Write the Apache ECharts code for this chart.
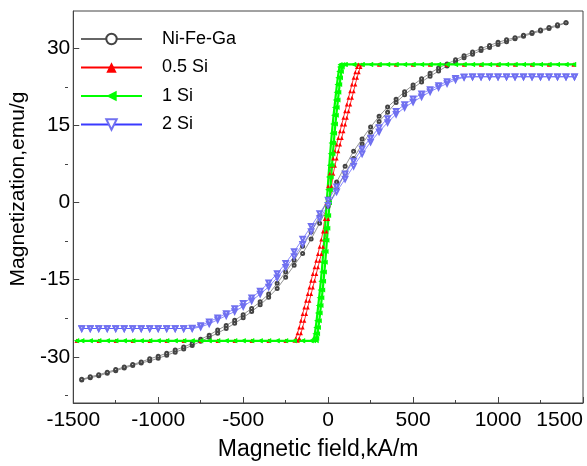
<!DOCTYPE html>
<html><head><meta charset="utf-8">
<script src="https://cdn.jsdelivr.net/npm/echarts@6/dist/echarts.min.js"></script>
<style>html,body{margin:0;padding:0;background:#fff}#c{width:587px;height:466px}</style>
</head><body><div id="c"></div>
<script>
const seriesNames = ['Ni-Fe-Ga', '0.5 Si', '1 Si', '2 Si'];
const yTicks = [-30, -15, 0, 15, 30];
const yMinorTicks = [-37.5, -22.5, -7.5, 7.5, 22.5];

// Ni-Fe-Ga (black): field grid, ascending and descending branch
const niField = [-1450,-1400,-1350,-1300,-1250,-1200,-1150,-1100,-1050,-1000,-950,-900,-850,-800,-750,-700,-650,-600,-550,-500,-450,-400,-350,-300,-250,-200,-150,-100,-50,0,50,100,150,200,250,300,350,400,450,500,550,600,650,700,750,800,850,900,950,1000,1050,1100,1150,1200,1250,1300,1350,1400];
const niUp = [-34.5,-34.1,-33.7,-33.2,-32.7,-32.2,-31.7,-31.2,-30.8,-30.3,-29.7,-29.1,-28.5,-27.8,-27.0,-26.2,-25.4,-24.5,-23.5,-22.4,-21.2,-19.9,-18.4,-16.7,-14.5,-12.2,-9.9,-7.1,-4.0,-0.7,2.6,5.7,8.6,11.4,13.7,15.8,17.6,19.5,21.0,22.3,23.5,24.6,25.6,26.6,27.4,28.2,28.9,29.6,30.2,30.8,31.3,31.9,32.4,32.9,33.4,33.9,34.4,35.0];
const niDown = [-34.4,-33.9,-33.5,-33.0,-32.5,-32.0,-31.5,-31.0,-30.4,-29.9,-29.3,-28.7,-28.1,-27.4,-26.6,-25.8,-24.8,-23.9,-22.9,-21.8,-20.6,-19.3,-17.8,-15.7,-13.5,-11.2,-8.5,-5.7,-2.6,0.7,4.0,7.1,10.0,12.4,14.7,16.8,18.6,20.1,21.6,22.9,24.1,25.2,26.2,27.0,27.8,28.6,29.3,30.0,30.6,31.2,31.7,32.1,32.6,33.1,33.6,34.1,34.6,35.0];

// 0.5 Si (red)
const redUpField = [-1480,-1350,-1250,-1150,-1050,-950,-850,-750,-650,-550,-450,-350,-250,-178,-170,-160,-150,-140,-130,-120,-110,-100,-90,-80,-70,-60,-50,-40,-30,-20,-10,0,10,20,30,40,50,60,70,80,90,100,110,120,130,140,150,160,170,180,190,198,300,400,500,600,700,800,900,1000,1100,1200,1300,1445];
const redUpM = [-26.9,-26.9,-26.9,-26.9,-26.9,-26.9,-26.9,-26.9,-26.9,-26.9,-26.9,-26.9,-26.9,-26.9,-26.4,-25.4,-24.3,-23.0,-21.7,-20.4,-19.1,-17.8,-16.5,-15.2,-13.9,-12.6,-11.3,-10.0,-8.6,-7.2,-5.6,-3.2,0,3.2,5.6,7.2,8.6,10.0,11.3,12.6,13.9,15.2,16.5,17.8,19.1,20.4,21.7,23.0,24.3,25.4,26.4,26.9,26.9,26.9,26.9,26.9,26.9,26.9,26.9,26.9,26.9,26.9,26.9,26.9];
const redDownField = [1445,1300,1200,1100,1000,900,800,700,600,500,400,300,178,170,160,150,140,130,120,110,100,90,80,70,60,50,40,30,20,10,0,-10,-20,-30,-40,-50,-60,-70,-80,-90,-100,-110,-120,-130,-140,-150,-160,-170,-180,-190,-198,-250,-350,-450,-550,-650,-750,-850,-950,-1050,-1150,-1250,-1350,-1480];
const redDownM = [26.9,26.9,26.9,26.9,26.9,26.9,26.9,26.9,26.9,26.9,26.9,26.9,26.9,26.4,25.4,24.3,23.0,21.7,20.4,19.1,17.8,16.5,15.2,13.9,12.6,11.3,10.0,8.6,7.2,5.6,3.2,0,-3.2,-5.6,-7.2,-8.6,-10.0,-11.3,-12.6,-13.9,-15.2,-16.5,-17.8,-19.1,-20.4,-21.7,-23.0,-24.3,-25.4,-26.4,-26.9,-26.9,-26.9,-26.9,-26.9,-26.9,-26.9,-26.9,-26.9,-26.9,-26.9,-26.9,-26.9,-26.9];

// 1 Si (green)
const greenUpField = [-1480,-1450,-1400,-1350,-1300,-1250,-1200,-1150,-1100,-1050,-1000,-950,-900,-850,-800,-750,-700,-650,-600,-550,-500,-450,-400,-350,-300,-250,-200,-150,-100,-70,-67,-62,-57,-52,-47,-42,-37,-32,-27,-22,-17,-12,-7,-2,3,8,13,18,23,28,33,38,43,48,53,58,63,68,73,78,83,86,100,150,200,250,300,350,400,450,500,550,600,650,700,750,800,850,900,950,1000,1050,1100,1150,1200,1250,1300,1350,1400,1445];
const greenUpM = [-26.9,-26.9,-26.9,-26.9,-26.9,-26.9,-26.9,-26.9,-26.9,-26.9,-26.9,-26.9,-26.9,-26.9,-26.9,-26.9,-26.9,-26.9,-26.9,-26.9,-26.9,-26.9,-26.9,-26.9,-26.9,-26.9,-26.9,-26.9,-26.9,-26.9,-26.4,-25.5,-24.3,-23.0,-21.5,-20.0,-18.5,-17.0,-15.3,-13.5,-11.6,-9.5,-7.3,-5.0,-2.5,0,2.5,5.0,7.3,9.5,11.6,13.5,15.3,17.0,18.5,20.0,21.5,23.0,24.3,25.5,26.4,26.9,26.9,26.9,26.9,26.9,26.9,26.9,26.9,26.9,26.9,26.9,26.9,26.9,26.9,26.9,26.9,26.9,26.9,26.9,26.9,26.9,26.9,26.9,26.9,26.9,26.9,26.9,26.9,26.9];
const greenDownField = [1445,1400,1350,1300,1250,1200,1150,1100,1050,1000,950,900,850,800,750,700,650,600,550,500,450,400,350,300,250,200,150,100,70,67,62,57,52,47,42,37,32,27,22,17,12,7,2,-3,-8,-13,-18,-23,-28,-33,-38,-43,-48,-53,-58,-63,-68,-73,-78,-83,-86,-100,-150,-200,-250,-300,-350,-400,-450,-500,-550,-600,-650,-700,-750,-800,-850,-900,-950,-1000,-1050,-1100,-1150,-1200,-1250,-1300,-1350,-1400,-1450,-1480];
const greenDownM = [26.9,26.9,26.9,26.9,26.9,26.9,26.9,26.9,26.9,26.9,26.9,26.9,26.9,26.9,26.9,26.9,26.9,26.9,26.9,26.9,26.9,26.9,26.9,26.9,26.9,26.9,26.9,26.9,26.9,26.4,25.5,24.3,23.0,21.5,20.0,18.5,17.0,15.3,13.5,11.6,9.5,7.3,5.0,2.5,0,-2.5,-5.0,-7.3,-9.5,-11.6,-13.5,-15.3,-17.0,-18.5,-20.0,-21.5,-23.0,-24.3,-25.5,-26.4,-26.9,-26.9,-26.9,-26.9,-26.9,-26.9,-26.9,-26.9,-26.9,-26.9,-26.9,-26.9,-26.9,-26.9,-26.9,-26.9,-26.9,-26.9,-26.9,-26.9,-26.9,-26.9,-26.9,-26.9,-26.9,-26.9,-26.9,-26.9,-26.9,-26.9];

// 2 Si (blue)
const blueField = [-1450,-1400,-1350,-1300,-1250,-1200,-1150,-1100,-1050,-1000,-950,-900,-850,-800,-750,-700,-650,-600,-550,-500,-450,-400,-350,-300,-250,-200,-150,-100,-50,0,50,100,150,200,250,300,350,400,450,500,550,600,650,700,750,800,850,900,950,1000,1050,1100,1150,1200,1250,1300,1350,1400,1450];
const blueUp = [-24.5,-24.5,-24.5,-24.5,-24.5,-24.5,-24.5,-24.5,-24.5,-24.5,-24.5,-24.5,-24.5,-24.5,-24.2,-23.6,-22.8,-22.0,-21.2,-20.2,-19.1,-17.8,-16.4,-14.6,-12.6,-10.5,-8.1,-5.6,-3.1,-0.5,2.1,4.6,7.1,9.5,11.8,13.8,15.6,17.2,18.5,19.6,20.6,21.6,22.4,23.2,23.9,24.4,24.5,24.5,24.5,24.5,24.5,24.5,24.5,24.5,24.5,24.5,24.5,24.5,24.5];
const blueDown = [-24.5,-24.5,-24.5,-24.5,-24.5,-24.5,-24.5,-24.5,-24.5,-24.5,-24.5,-24.5,-24.5,-24.4,-23.9,-23.2,-22.4,-21.6,-20.6,-19.6,-18.5,-17.2,-15.6,-13.8,-11.8,-9.5,-7.1,-4.6,-2.1,0.5,3.1,5.6,8.1,10.5,12.6,14.6,16.4,17.8,19.1,20.2,21.2,22.0,22.8,23.6,24.2,24.5,24.5,24.5,24.5,24.5,24.5,24.5,24.5,24.5,24.5,24.5,24.5,24.5,24.5];

function loopFromGrid(field, up, down) {
  const d = [];
  for (let i = 0; i < field.length; i++) d.push([field[i], up[i]]);
  for (let i = field.length - 1; i >= 0; i--) d.push([field[i], down[i]]);
  return d;
}
function loopFromBranches(upF, upM, downF, downM) {
  const d = [];
  for (let i = 0; i < upF.length; i++) d.push([upF[i], upM[i]]);
  for (let i = 0; i < downF.length; i++) d.push([downF[i], downM[i]]);
  return d;
}

const font = 'Liberation Sans, Arial, sans-serif';
const gridLeft = 65, gridRight = 4, chartWidth = 587, minorTickLen = 3;
const chart = echarts.init(document.getElementById('c'), null, {renderer: 'canvas'});
chart.setOption({
  animation: false,
  backgroundColor: '#fff',
  grid: {left: gridLeft, right: gridRight, top: 11, bottom: 61, show: true, borderColor: '#444', borderWidth: 1, backgroundColor: 'transparent'},
  legend: {
    orient: 'vertical', left: 75, top: 25, itemWidth: 61, itemHeight: 13, itemGap: 10.5,
    data: seriesNames,
    lineStyle: {width: 2},
    textStyle: {fontSize: 18, color: '#000', fontFamily: font, padding: [0, 0, 0, 15]}
  },
  xAxis: {
    type: 'value', min: -1500, max: 1500, interval: 500,
    name: 'Magnetic field,kA/m', nameLocation: 'middle', nameGap: 35,
    nameTextStyle: {fontSize: 23, color: '#000', fontFamily: font, padding: [0, 20, 0, 0]},
    axisLine: {onZero: false, lineStyle: {color: '#444'}},
    axisTick: {inside: true, length: 6, lineStyle: {color: '#444'}},
    minorTick: {show: true, splitNumber: 2, length: 3, lineStyle: {color: '#444'}},
    splitLine: {show: false},
    axisLabel: {fontSize: 21, color: '#000', fontFamily: font, margin: 7, alignMaxLabel: 'right',
      formatter: v => String(v)}
  },
  yAxis: [{
    type: 'value', min: -39, max: 37.3, position: 'left',
    name: 'Magnetization,emu/g', nameLocation: 'middle', nameGap: 32,
    nameTextStyle: {fontSize: 21, color: '#000', fontFamily: font, padding: [0, 0, 0, 36]},
    axisLine: {show: true, onZero: false, lineStyle: {color: '#444'}},
    axisTick: {inside: true, length: 6, customValues: yTicks, lineStyle: {color: '#444'}},
    splitLine: {show: false},
    axisLabel: {fontSize: 21, color: '#000', fontFamily: font, margin: 3, customValues: yTicks}
  }, {
    // minor ticks: second axis sits on the right slot, shifted just inside the left edge
    type: 'value', min: -39, max: 37.3, position: 'right',
    offset: -(chartWidth - gridLeft - gridRight - minorTickLen),
    axisLine: {show: false, onZero: false}, splitLine: {show: false},
    axisTick: {show: true, inside: true, length: minorTickLen, customValues: yMinorTicks, lineStyle: {color: '#444'}},
    axisLabel: {show: false, customValues: yMinorTicks}
  }],
  series: [
    {name: seriesNames[0], type: 'line', data: loopFromGrid(niField, niUp, niDown),
     color: '#222', symbol: 'emptyCircle', symbolSize: 3,
     lineStyle: {width: 0.7, color: '#666'}, itemStyle: {borderWidth: 0.6, color: '#444'}},
    {name: seriesNames[1], type: 'line', data: loopFromBranches(redUpField, redUpM, redDownField, redDownM),
     color: '#ff0000', symbol: 'triangle', symbolSize: 4,
     lineStyle: {width: 0.8}},
    {name: seriesNames[2], type: 'line', data: loopFromBranches(greenUpField, greenUpM, greenDownField, greenDownM),
     color: '#00ff00', symbol: 'triangle', symbolRotate: 90, symbolSize: 5,
     lineStyle: {width: 2.2}},
    {name: seriesNames[3], type: 'line', data: loopFromGrid(blueField, blueUp, blueDown),
     color: '#3434ff', symbol: 'emptyTriangle', symbolRotate: 180, symbolSize: 4.5,
     lineStyle: {width: 0.6, color: '#3a3aff'}, itemStyle: {borderWidth: 0.8, color: '#7070f0'}}
  ]
});
</script></body></html>
